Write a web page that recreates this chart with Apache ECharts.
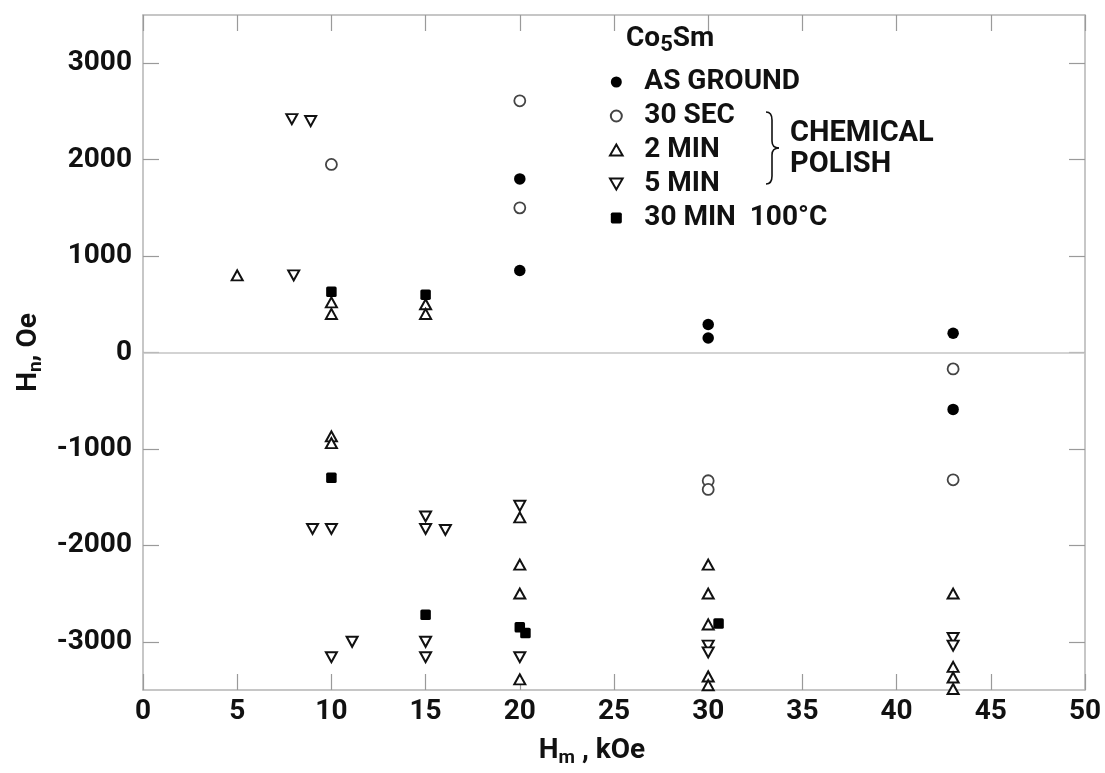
<!DOCTYPE html>
<html>
<head>
<meta charset="utf-8">
<script src="https://cdn.jsdelivr.net/npm/echarts@6/dist/echarts.min.js"></script>
<style>html,body{margin:0;padding:0;background:#fff;}#c{width:1105px;height:773px;}</style>
</head>
<body>
<div id="c"></div>
<script>
// ---- data (Hm kOe, Hn Oe) ----
const seriesNames = ['AS GROUND', '30 SEC', '2 MIN', '5 MIN', '30 MIN  100°C'];
const asGround = [[20,1800],[20,850],[30,290],[30,150],[43,200],[43,-590]];
const sec30 = [[10,1950],[20,2610],[20,1500],[30,-1330],[30,-1420],[43,-170],[43,-1320]];
const min2 = [[5,800],[10,520],[10,400],[15,500],[15,400],[10,-870],[10,-940],
  [20,-1710],[20,-2200],[20,-2500],[20,-3390],[30,-2200],[30,-2500],[30,-2820],
  [30,-3360],[30,-3450],[43,-2500],[43,-3260],[43,-3370],[43,-3490]];
const min5 = [[7.9,2420],[8.9,2400],[8,800],[9,-1830],[10,-1830],[11.1,-3000],[10,-3160],
  [15,-1700],[15,-1830],[16.05,-1840],[15,-3000],[15,-3160],[20,-1590],[20,-3160],
  [30,-3040],[30,-3110],[43,-2960],[43,-3040]];
const min30 = [[10,630],[15,600],[10,-1300],[15,-2720],[20,-2850],[20.3,-2910],[30.55,-2810]];
const xTicks = [0,5,10,15,20,25,30,35,40,45,50];
const yTicks = [-3000,-2000,-1000,0,1000,2000,3000];

const FONT = 'Roboto, "Liberation Sans", sans-serif';
const axisGrey = '#b4b4b4';
const tickGrey = '#9a9a9a';
const txt = '#111';
const W = 'bold';

const TRI_UP = 'path://M5,0L10,8.7L0,8.7Z';
const TRI_DOWN = 'path://M0,0L10,0L5,8.7Z';
const SQUARE = 'path://M1.5,0H8.5Q10,0 10,1.5V8.5Q10,10 8.5,10H1.5Q0,10 0,8.5V1.5Q0,0 1.5,0Z';

const chart = echarts.init(document.getElementById('c'), null, {renderer: 'canvas'});

const baseX = {
  type: 'value', min: 0, max: 50, interval: 5,
  axisLine: {onZero: false, lineStyle: {color: axisGrey, width: 1.5}},
  axisTick: {inside: true, length: 16, lineStyle: {color: tickGrey, width: 1.2}},
  splitLine: {show: false}
};
const baseY = {
  type: 'value', min: -3500, max: 3500, interval: 500,
  axisLine: {onZero: false, lineStyle: {color: axisGrey, width: 1.5}},
  axisTick: {inside: true, length: 16, customValues: yTicks, lineStyle: {color: tickGrey, width: 1.2}},
  splitLine: {show: false}
};

const richTitle = {
  a: {fontSize: 28, fontFamily: FONT, fontWeight: W, color: txt, lineHeight: 30},
  s: {fontSize: 19, fontFamily: FONT, fontWeight: W, color: txt, lineHeight: 19, padding: [15, 0, 0, 0]}
};

const openStyle = {color: '#fff', borderColor: '#111', borderWidth: 2, opacity: 1};
const braceStyle = {fill: 'none', stroke: '#111', lineWidth: 1.6};

const option = {
  backgroundColor: '#fff',
  animation: false,
  grid: {left: 143, right: 20, top: 15, bottom: 83},
  xAxis: [
    Object.assign({}, baseX, {
      position: 'bottom',
      axisLabel: {customValues: xTicks, margin: 8, fontSize: 28, fontFamily: FONT, fontWeight: W, color: txt},
      name: '{a|H}{s|m}{a| , kOe}',
      nameLocation: 'middle', nameGap: 46,
      nameTextStyle: {rich: richTitle, padding: [0, 44, 0, 0]}
    }),
    Object.assign({}, baseX, {position: 'top', axisLabel: {show: false}})
  ],
  yAxis: [
    Object.assign({}, baseY, {
      position: 'left',
      axisLabel: {customValues: yTicks, margin: 11, fontSize: 28, fontFamily: FONT, fontWeight: W, color: txt,
        formatter: v => (v < 0 ? '-' + Math.abs(v) : String(v))},
      name: '{a|H}{s|n}{a|, Oe}',
      nameLocation: 'middle', nameGap: 88,
      nameTextStyle: {rich: richTitle}
    }),
    Object.assign({}, baseY, {position: 'right', axisLabel: {show: false}})
  ],
  legend: {
    orient: 'vertical', left: 609, top: 66, padding: 0,
    itemWidth: 46, itemHeight: 11, itemGap: 2,
    textStyle: {fontSize: 28, fontFamily: FONT, fontWeight: W, color: txt, lineHeight: 32},
    data: [
      {name: seriesNames[0], icon: 'circle'},
      {name: seriesNames[1], icon: 'circle'},
      {name: seriesNames[2], icon: TRI_UP},
      {name: seriesNames[3], icon: TRI_DOWN},
      {name: seriesNames[4], icon: SQUARE}
    ],
    selectedMode: false
  },
  series: [
    {name: seriesNames[0], type: 'scatter', data: asGround, symbol: 'circle', symbolSize: 11.5,
      itemStyle: {color: '#000', opacity: 1},
      markLine: {silent: true, symbol: 'none', label: {show: false},
        lineStyle: {color: '#c4c4c4', width: 1.5, type: 'solid'}, data: [{yAxis: 0}]}},
    {name: seriesNames[1], type: 'scatter', data: sec30, symbol: 'circle', symbolSize: 11,
      itemStyle: {color: '#fff', borderColor: '#444', borderWidth: 1.8, opacity: 1}},
    {name: seriesNames[2], type: 'scatter', data: min2, symbol: TRI_UP, symbolSize: [11, 10],
      itemStyle: openStyle},
    {name: seriesNames[3], type: 'scatter', data: min5, symbol: TRI_DOWN, symbolSize: [11, 10],
      itemStyle: openStyle},
    {name: seriesNames[4], type: 'scatter', data: min30, symbol: SQUARE, symbolSize: 10.5,
      itemStyle: {color: '#000', opacity: 1}}
  ],
  graphic: [
    {type: 'text', x: 626, y: 24,
      style: {text: '{a|Co}{s|5}{a|Sm}', rich: {
        a: {fontSize: 28, fontFamily: FONT, fontWeight: W, fill: txt, lineHeight: 30},
        s: {fontSize: 22, fontFamily: FONT, fontWeight: W, fill: txt, lineHeight: 22, padding: [12, 0, 0, 0]}
      }}},
    {type: 'bezierCurve', shape: {x1: 766, y1: 112, x2: 772, y2: 120, cpx1: 772, cpy1: 112}, style: braceStyle},
    {type: 'line', shape: {x1: 772, y1: 120, x2: 772, y2: 141}, style: braceStyle},
    {type: 'bezierCurve', shape: {x1: 772, y1: 141, x2: 779, y2: 148, cpx1: 772, cpy1: 148}, style: braceStyle},
    {type: 'bezierCurve', shape: {x1: 779, y1: 148, x2: 772, y2: 155, cpx1: 772, cpy1: 148}, style: braceStyle},
    {type: 'line', shape: {x1: 772, y1: 155, x2: 772, y2: 176}, style: braceStyle},
    {type: 'bezierCurve', shape: {x1: 772, y1: 176, x2: 766, y2: 184, cpx1: 772, cpy1: 184}, style: braceStyle},
    {type: 'text', x: 790, y: 119,
      style: {text: 'CHEMICAL', fontSize: 29, fontFamily: FONT, fontWeight: W, fill: txt}},
    {type: 'text', x: 790, y: 150,
      style: {text: 'POLISH', fontSize: 29, fontFamily: FONT, fontWeight: W, fill: txt}}
  ]
};
chart.setOption(option);
</script>
</body>
</html>
